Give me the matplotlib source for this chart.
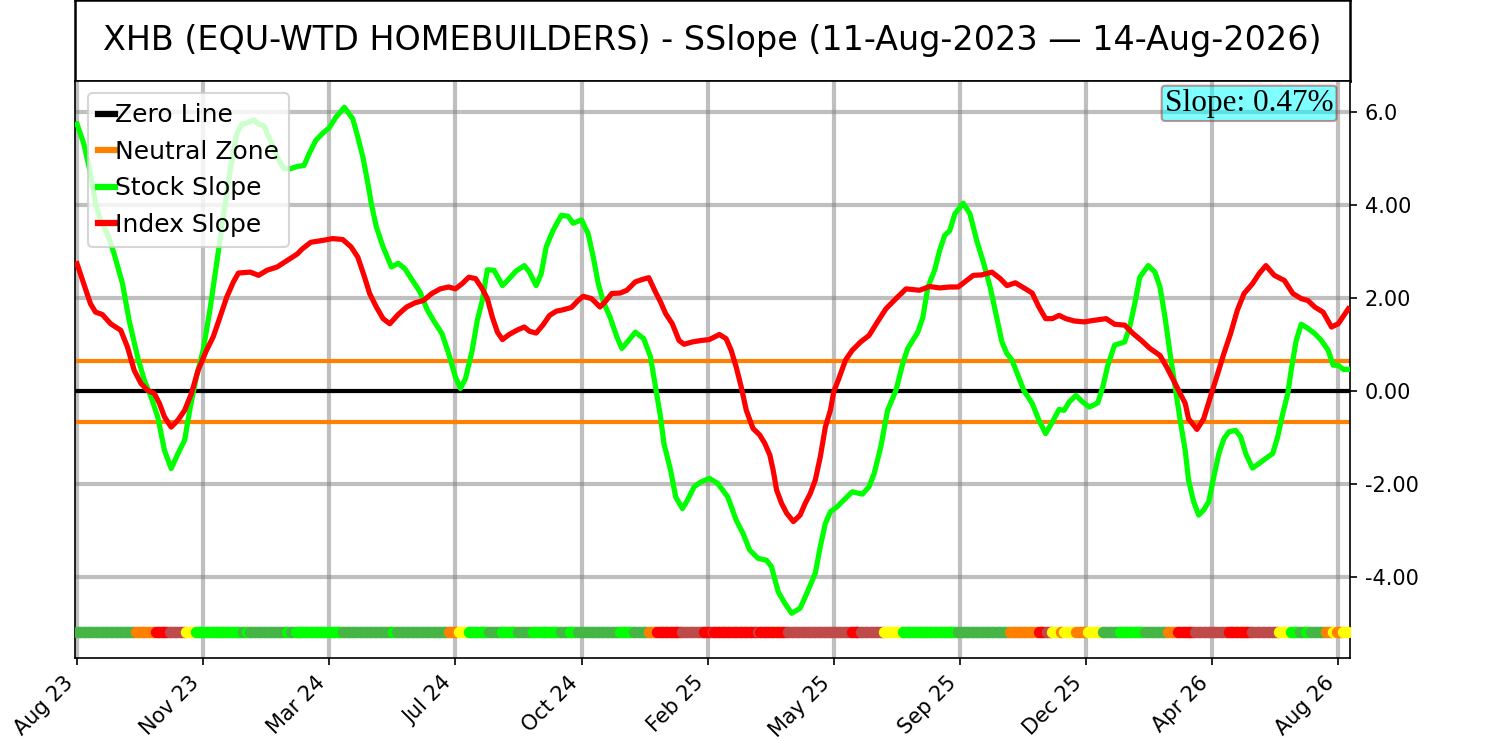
import matplotlib
matplotlib.use("Agg")
import matplotlib.pyplot as plt
import numpy as np

# ---------------- data ----------------
tick_pos = [0, 75, 150, 225, 300, 375, 450, 525, 600, 675, 750]
tick_labels = ['Aug 23', 'Nov 23', 'Mar 24', 'Jul 24', 'Oct 24', 'Feb 25',
               'May 25', 'Sep 25', 'Dec 25', 'Apr 26', 'Aug 26']
n_points = 757

y_ticks = [-4, -2, 0, 2, 4, 6]
y_tick_labels = ['-4.00', '-2.00', '0.00', '2.00', '4.00', '6.0']

neutral_level = 0.65
slope_value = 0.47

stock_idx = [0, 4, 8, 11, 14, 18, 22, 27, 31, 36, 40, 44, 48, 52, 56, 60, 64, 67, 71, 75,
             79, 83, 87, 91, 95, 98, 101, 105, 108, 111, 115, 119, 123, 127, 131, 135, 138,
             142, 146, 150, 154, 159, 164, 167, 170, 173, 175, 178, 182, 187, 191, 195, 200,
             204, 208, 212, 217, 221, 225, 228, 231, 235, 238, 241, 244, 248, 253, 257, 261,
             266, 269, 273, 276, 279, 283, 288, 292, 295, 300, 304, 307, 310, 313, 317, 321,
             324, 328, 332, 337, 341, 344, 347, 349, 353, 356, 360, 363, 367, 371, 376, 381,
             387, 392, 396, 400, 405, 410, 413, 417, 421, 425, 430, 434, 439, 442, 445, 448,
             452, 457, 461, 467, 471, 474, 478, 482, 487, 491, 494, 500, 503, 506, 510, 513,
             516, 519, 522, 527, 531, 535, 539, 543, 546, 550, 553, 556, 560, 563, 568, 572,
             576, 580, 584, 587, 590, 594, 598, 602, 607, 610, 613, 617, 623, 626, 629, 632,
             637, 641, 644, 647, 650, 653, 656, 659, 661, 664, 667, 670, 673, 676, 679, 682,
             685, 689, 692, 695, 699, 703, 707, 711, 714, 717, 720, 722, 725, 728, 732, 736,
             740, 744, 747, 750, 753, 756]
stock_val = [5.74, 5.32, 4.68, 4.03, 3.67, 3.39, 2.96, 2.32, 1.52, 0.74, 0.24, -0.12, -0.55,
             -1.27, -1.66, -1.34, -1.05, -0.41, 0.31, 0.88, 1.74, 2.74, 3.74, 4.74, 5.53, 5.74,
             5.76, 5.83, 5.74, 5.71, 5.39, 5.03, 4.78, 4.78, 4.83, 4.85, 5.10, 5.39, 5.54, 5.66,
             5.89, 6.10, 5.85, 5.46, 5.03, 4.46, 4.03, 3.53, 3.10, 2.67, 2.75, 2.63, 2.35, 2.13,
             1.77, 1.52, 1.24, 0.81, 0.31, 0.06, 0.27, 0.88, 1.52, 1.95, 2.61, 2.60, 2.27, 2.42,
             2.58, 2.70, 2.56, 2.27, 2.52, 3.10, 3.45, 3.78, 3.76, 3.61, 3.68, 3.38, 2.88, 2.31,
             1.92, 1.59, 1.17, 0.92, 1.09, 1.27, 1.13, 0.74, 0.09, -0.55, -1.12, -1.70, -2.27,
             -2.52, -2.34, -2.05, -1.95, -1.87, -1.98, -2.27, -2.77, -3.05, -3.41, -3.59, -3.63,
             -3.77, -4.31, -4.56, -4.77, -4.66, -4.34, -3.91, -3.34, -2.84, -2.59, -2.48, -2.30,
             -2.16, -2.21, -2.05, -1.77, -1.19, -0.41, 0.02, 0.59, 0.92, 1.27, 1.59, 2.24, 2.60,
             3.03, 3.35, 3.45, 3.81, 4.04, 3.81, 3.24, 2.77, 2.24, 1.74, 1.06, 0.81, 0.67, 0.30,
             0.02, -0.26, -0.62, -0.91, -0.66, -0.39, -0.41, -0.23, -0.09, -0.23, -0.34, -0.25,
             0.09, 0.56, 0.99, 1.06, 1.38, 1.88, 2.45, 2.70, 2.56, 2.24, 1.59, 0.81, 0.09, -0.62,
             -1.27, -1.91, -2.37, -2.66, -2.55, -2.37, -1.84, -1.34, -1.02, -0.87, -0.84, -0.98,
             -1.34, -1.65, -1.55, -1.44, -1.34, -0.98, -0.48, -0.05, 0.45, 1.09, 1.44, 1.35,
             1.24, 1.09, 0.88, 0.56, 0.56, 0.47, 0.47]

index_idx = [0, 4, 8, 11, 15, 20, 26, 30, 34, 38, 42, 46, 49, 52, 56, 60, 64, 68, 72, 77,
             81, 85, 89, 93, 96, 103, 108, 113, 119, 125, 131, 134, 139, 146, 152, 158, 163,
             167, 171, 174, 178, 182, 186, 191, 196, 201, 206, 211, 216, 221, 225, 229, 233,
             237, 241, 244, 247, 250, 253, 257, 262, 266, 269, 273, 277, 281, 285, 289, 294,
             298, 301, 306, 311, 314, 318, 323, 327, 332, 336, 340, 344, 347, 350, 354, 358,
             361, 366, 371, 376, 382, 386, 389, 392, 395, 398, 402, 406, 409, 412, 414, 416,
             419, 422, 426, 430, 433, 436, 439, 442, 445, 448, 450, 453, 457, 461, 466, 471,
             476, 481, 487, 493, 501, 507, 513, 519, 524, 529, 533, 538, 544, 549, 553, 558,
             564, 568, 572, 576, 580, 584, 588, 593, 599, 604, 612, 617, 623, 628, 633, 638,
             644, 648, 652, 656, 659, 661, 666, 670, 674, 678, 682, 686, 690, 694, 699, 703,
             707, 712, 718, 723, 728, 732, 736, 741, 746, 750, 756]
index_val = [2.74, 2.31, 1.88, 1.70, 1.65, 1.45, 1.31, 0.95, 0.45, 0.17, 0.02, -0.05, -0.26,
             -0.55, -0.77, -0.62, -0.41, -0.05, 0.45, 0.88, 1.17, 1.59, 2.02, 2.35, 2.54, 2.56,
             2.49, 2.60, 2.67, 2.81, 2.95, 3.06, 3.20, 3.24, 3.28, 3.26, 3.10, 2.88, 2.45, 2.10,
             1.81, 1.56, 1.45, 1.65, 1.81, 1.90, 1.95, 2.10, 2.20, 2.24, 2.20, 2.31, 2.45, 2.42,
             2.20, 1.99, 1.59, 1.27, 1.11, 1.22, 1.32, 1.38, 1.29, 1.25, 1.42, 1.63, 1.72, 1.75,
             1.80, 1.95, 2.04, 1.99, 1.81, 1.92, 2.10, 2.11, 2.17, 2.35, 2.40, 2.44, 2.13, 1.92,
             1.67, 1.45, 1.09, 1.01, 1.06, 1.09, 1.11, 1.22, 1.13, 0.88, 0.52, 0.09, -0.41, -0.80,
             -0.94, -1.12, -1.37, -1.70, -2.12, -2.41, -2.62, -2.80, -2.66, -2.41, -2.20, -1.91,
             -1.41, -0.77, -0.41, -0.01, 0.27, 0.67, 0.88, 1.06, 1.20, 1.49, 1.77, 1.99, 2.20,
             2.17, 2.25, 2.22, 2.24, 2.24, 2.38, 2.49, 2.50, 2.56, 2.42, 2.27, 2.33, 2.20, 2.11,
             1.81, 1.56, 1.56, 1.63, 1.56, 1.51, 1.49, 1.52, 1.56, 1.44, 1.42, 1.24, 1.09, 0.92,
             0.77, 0.52, 0.24, -0.05, -0.26, -0.59, -0.82, -0.59, -0.12, 0.34, 0.81, 1.24, 1.74,
             2.10, 2.31, 2.53, 2.70, 2.49, 2.38, 2.10, 1.99, 1.95, 1.81, 1.70, 1.38, 1.45, 1.77]

# signal strip: run-lengths of state codes along the index axis
strip_codes = ['M', 'O', 'R', 'B', 'Y', 'G', 'M', 'G', 'M', 'G', 'M', 'G', 'M', 'G', 'M',
               'O', 'Y', 'G', 'M', 'G', 'M', 'G', 'M', 'G', 'M', 'G', 'M', 'O', 'R', 'B',
               'R', 'B', 'R', 'B', 'R', 'B', 'R', 'B', 'Y', 'G', 'M', 'O', 'R', 'B', 'Y',
               'O', 'Y', 'O', 'Y', 'M', 'G', 'M', 'O', 'R', 'B', 'R', 'B', 'Y', 'G', 'M',
               'G', 'M', 'O', 'Y', 'O', 'Y']
strip_ends = [35, 47, 55, 65, 71, 99, 101, 103, 125, 127, 130, 158, 188, 190, 221,
              227, 233, 245, 253, 262, 271, 288, 293, 298, 323, 331, 340, 345, 360, 373,
              378, 379, 405, 406, 423, 461, 466, 480, 491, 524, 555, 572, 577, 580, 585,
              587, 594, 601, 610, 620, 635, 649, 655, 665, 685, 699, 715, 722, 727, 731,
              734, 743, 747, 749, 753, 757]
strip_palette = {'G': '#00FF00', 'M': '#45B545', 'O': '#FF8000', 'R': '#FF0000',
                 'B': '#BE4A4A', 'Y': '#FFFF00'}
strip_level = -5.17

# ---------------- figure ----------------
fig = plt.figure(figsize=(10, 4.94), dpi=150)

ax_t = fig.add_axes([0.05, 0.891, 0.85, 0.109])
ax_t.set_xticks([])
ax_t.set_yticks([])
for s in ax_t.spines.values():
    s.set_linewidth(1.2)
ax_t.text(0.5, 0.5, 'XHB (EQU-WTD HOMEBUILDERS) - SSlope (11-Aug-2023 \u2014 14-Aug-2026)',
          ha='center', va='center', fontsize=16, transform=ax_t.transAxes)

ax = fig.add_axes([0.05, 0.112, 0.85, 0.779])
ax.set_xlim(-1.2, n_points)
ax.set_ylim(-5.73, 6.67)

ax.grid(True, color='gray', linewidth=2, alpha=0.5)
ax.set_axisbelow(True)

ax.axhline(0, color='black', linewidth=2, label='Zero Line', zorder=2)
ax.axhline(neutral_level, color='#FF8000', linewidth=2, label='Neutral Zone', zorder=2)
ax.axhline(-neutral_level, color='#FF8000', linewidth=2, zorder=2)
ax.plot(stock_idx, stock_val, color='#00FF00', linewidth=2.5, label='Stock Slope', zorder=3)
ax.plot(index_idx, index_val, color='#FF0000', linewidth=2.5, label='Index Slope', zorder=3)

# strip of dots
starts = [0] + strip_ends[:-1]
for c, a, b in zip(strip_codes, starts, strip_ends):
    xs = np.arange(a, b)
    ax.scatter(xs, np.full(len(xs), strip_level), s=30, color=strip_palette[c],
               linewidths=0, zorder=4)

ax.set_xticks(tick_pos)
ax.set_xticklabels(tick_labels, rotation=45, ha='right', fontsize=10)
ax.yaxis.tick_right()
ax.set_yticks(y_ticks)
ax.set_yticklabels(y_tick_labels, fontsize=10)

leg = ax.legend(loc='upper left', fontsize=12, handlelength=0.7, handletextpad=0.0,
                labelspacing=0.5, borderpad=0.4, borderaxespad=0.5)
for h in leg.get_lines():
    h.set_linewidth(3)

ax.text(0.987, 0.986, 'Slope: %.2f%%' % slope_value, transform=ax.transAxes,
        ha='right', va='top', fontsize=15, family='Liberation Serif',
        bbox=dict(boxstyle='round,pad=0.1', facecolor='cyan', edgecolor='brown', alpha=0.5),
        zorder=6)

fig.savefig('out.png', dpi=150)
